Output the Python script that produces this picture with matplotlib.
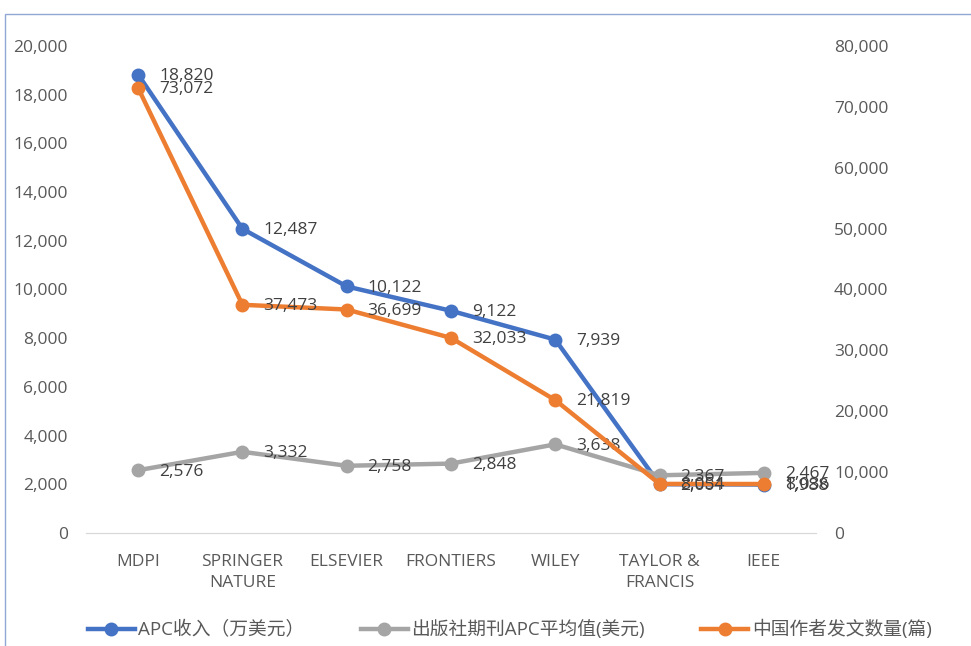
import matplotlib
matplotlib.use("Agg")
import matplotlib.pyplot as plt
from matplotlib.ticker import FuncFormatter
from matplotlib.lines import Line2D
from matplotlib.patches import Rectangle

plt.rcParams['font.family'] = ['Open Sans', 'Noto Sans CJK SC', 'DejaVu Sans']

categories = ["MDPI", "SPRINGER\nNATURE", "ELSEVIER", "FRONTIERS", "WILEY", "TAYLOR &\nFRANCIS", "IEEE"]
apc_income = [18820, 12487, 10122, 9122, 7939, 2001, 1988]
apc_avg = [2576, 3332, 2758, 2848, 3638, 2367, 2467]
cn_papers = [73072, 37473, 36699, 32033, 21819, 8054, 8036]

names = ["APC收入（万美元）", "出版社期刊APC平均值(美元)", "中国作者发文数量(篇)"]
c_blue, c_gray, c_orange = "#4472C4", "#A5A5A5", "#ED7D31"
txt = "#595959"

fig = plt.figure(figsize=(9.71, 6.46), dpi=100)
ax = fig.add_axes([0.0886, 0.175, 0.7517, 0.754])
ax2 = ax.twinx()

x = list(range(len(categories)))
lw, ms = 3.2, 9
ax.plot(x, apc_income, color=c_blue, lw=lw, marker='o', ms=ms, zorder=3)
ax.plot(x, apc_avg, color=c_gray, lw=lw, marker='o', ms=ms, zorder=3)
ax2.plot(x, cn_papers, color=c_orange, lw=lw, marker='o', ms=ms, zorder=3)

fmt = FuncFormatter(lambda v, p: f"{int(v):,}")
ax.set_ylim(0, 20000)
ax.set_yticks(range(0, 20001, 2000))
ax.yaxis.set_major_formatter(fmt)
ax2.set_ylim(0, 80000)
ax2.set_yticks(range(0, 80001, 10000))
ax2.yaxis.set_major_formatter(fmt)
ax.set_xlim(-0.5, len(categories) - 0.5)
ax.set_xticks(x)
ax.set_xticklabels(categories, linespacing=1.45)

fs = 12.5
for a in (ax, ax2):
    for s in ("top", "left", "right"):
        a.spines[s].set_visible(False)
    a.spines["bottom"].set_color("#D9D9D9")
    a.tick_params(length=0, labelsize=fs, colors=txt, pad=13)
ax.tick_params(axis='x', pad=15)

lab_kw = dict(textcoords="offset points", ha='left', va='center', fontsize=fs, color="#404040", zorder=5)
for xi, v in zip(x, apc_income):
    ax.annotate(f"{v:,}", (xi, v), xytext=(15, -1), **lab_kw)
for xi, v in zip(x, apc_avg):
    ax.annotate(f"{v:,}", (xi, v), xytext=(15, -1), **lab_kw)
for xi, v in zip(x, cn_papers):
    ax2.annotate(f"{v:,}", (xi, v), xytext=(15, -1), **lab_kw)

handles = [Line2D([], [], color=c, lw=lw, marker='o', ms=ms) for c in (c_blue, c_gray, c_orange)]
fig.legend(handles, names, loc='center', bbox_to_anchor=(0.525, 0.025), ncol=3, frameon=False,
           fontsize=13.5, labelcolor=txt, handlelength=2.5, handletextpad=0.2, columnspacing=3.0)

fig.patches.append(Rectangle((0.005, -0.01), 1.2, 0.988, transform=fig.transFigure,
                             fill=False, edgecolor="#8FA8D4", lw=1.0))

fig.savefig("out.png", dpi=100)
